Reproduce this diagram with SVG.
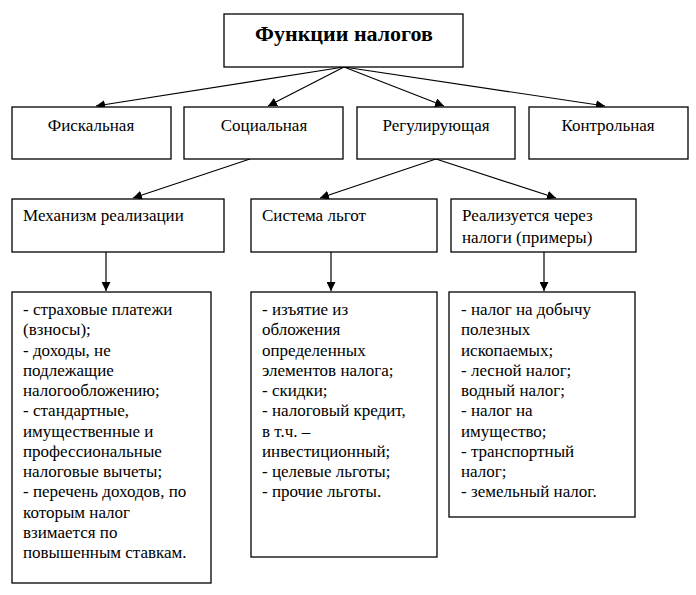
<svg xmlns="http://www.w3.org/2000/svg" width="696" height="595" viewBox="0 0 696 595" font-family="Liberation Serif, Times New Roman, serif" font-size="17">
<style>
.box{fill:#fff;stroke:#000;stroke-width:1.3}
.c{text-anchor:middle}
.ln{stroke:#000;stroke-width:1.2;fill:none}
</style>
<defs>
<marker id="ah" viewBox="0 0 10 10" refX="10" refY="5" markerWidth="9" markerHeight="9" markerUnits="userSpaceOnUse" orient="auto">
<path d="M0,0 L10,5 L0,10 z" fill="#000"/>
</marker>
</defs>
<rect width="696" height="595" fill="#fff"/>
<g id="connectors">
<line class="ln" x1="344" y1="67" x2="96" y2="106" marker-end="url(#ah)"/>
<line class="ln" x1="344" y1="67" x2="268" y2="106" marker-end="url(#ah)"/>
<line class="ln" x1="344" y1="67" x2="444" y2="106" marker-end="url(#ah)"/>
<line class="ln" x1="344" y1="67" x2="605" y2="106" marker-end="url(#ah)"/>
<line class="ln" x1="250" y1="159" x2="133" y2="198" marker-end="url(#ah)"/>
<line class="ln" x1="436" y1="159" x2="320" y2="198" marker-end="url(#ah)"/>
<line class="ln" x1="436" y1="159" x2="556" y2="198" marker-end="url(#ah)"/>
<line class="ln" x1="106" y1="252" x2="106" y2="291" marker-end="url(#ah)"/>
<line class="ln" x1="331" y1="252" x2="331" y2="291" marker-end="url(#ah)"/>
<line class="ln" x1="544" y1="252" x2="544" y2="291" marker-end="url(#ah)"/>
</g>
<g id="root">
<rect class="box" x="224" y="14" width="239" height="53"/>
<text x="344" y="41" font-size="22" font-weight="bold" text-anchor="middle">Функции налогов</text>
</g>
<g id="fiscal">
<rect class="box" x="12" y="107" width="159" height="52"/>
<text class="c" x="91" y="131">Фискальная</text>
</g>
<g id="social">
<rect class="box" x="184" y="107" width="159" height="52"/>
<text class="c" x="264" y="131">Социальная</text>
</g>
<g id="regulating">
<rect class="box" x="357" y="107" width="158" height="52"/>
<text class="c" x="436" y="131">Регулирующая</text>
</g>
<g id="control">
<rect class="box" x="529" y="107" width="159" height="52"/>
<text class="c" x="608" y="131">Контрольная</text>
</g>
<g id="mechanism">
<rect class="box" x="12" y="199" width="212" height="53"/>
<text x="23" y="221">Механизм реализации</text>
</g>
<g id="benefits">
<rect class="box" x="251" y="199" width="186" height="53"/>
<text x="262" y="221">Система льгот</text>
</g>
<g id="realized">
<rect class="box" x="451" y="199" width="185" height="53"/>
<text x="462" y="221">Реализуется через</text>
<text x="462" y="243">налоги (примеры)</text>
</g>
<g id="list1">
<rect class="box" x="12" y="292" width="199" height="291"/>
<text x="23" y="315">- страховые платежи</text>
<text x="23" y="335">(взносы);</text>
<text x="23" y="356">- доходы, не</text>
<text x="23" y="376">подлежащие</text>
<text x="23" y="396">налогообложению;</text>
<text x="23" y="416">- стандартные,</text>
<text x="23" y="437">имущественные и</text>
<text x="23" y="457">профессиональные</text>
<text x="23" y="477">налоговые вычеты;</text>
<text x="23" y="497">- перечень доходов, по</text>
<text x="23" y="518">которым налог</text>
<text x="23" y="538">взимается по</text>
<text x="23" y="558">повышенным ставкам.</text>
</g>
<g id="list2">
<rect class="box" x="251" y="292" width="186" height="265"/>
<text x="262" y="315">- изъятие из</text>
<text x="262" y="335">обложения</text>
<text x="262" y="356">определенных</text>
<text x="262" y="376">элементов налога;</text>
<text x="262" y="396">- скидки;</text>
<text x="262" y="416">- налоговый кредит,</text>
<text x="262" y="437">в т.ч. –</text>
<text x="262" y="457">инвестиционный;</text>
<text x="262" y="477">- целевые льготы;</text>
<text x="262" y="497">- прочие льготы.</text>
</g>
<g id="list3">
<rect class="box" x="449" y="292" width="186" height="225"/>
<text x="461" y="315">- налог на добычу</text>
<text x="461" y="335">полезных</text>
<text x="461" y="356">ископаемых;</text>
<text x="461" y="376">- лесной налог;</text>
<text x="461" y="396">водный налог;</text>
<text x="461" y="416">- налог на</text>
<text x="461" y="437">имущество;</text>
<text x="461" y="457">- транспортный</text>
<text x="461" y="477">налог;</text>
<text x="461" y="497">- земельный налог.</text>
</g>
</svg>
